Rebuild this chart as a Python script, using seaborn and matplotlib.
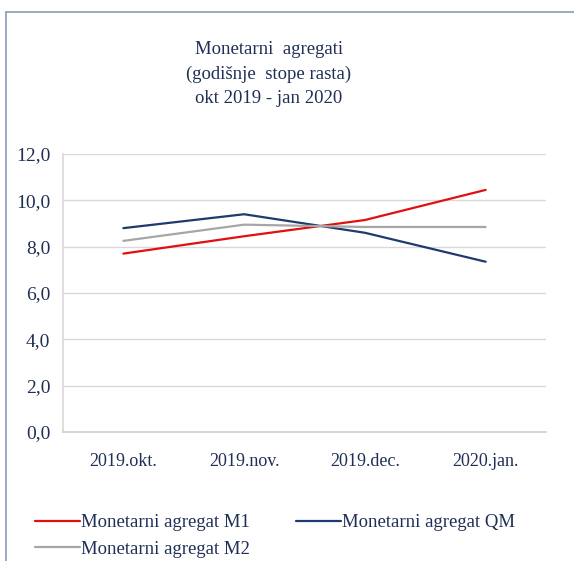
import pandas as pd
import seaborn as sb
import matplotlib.pyplot as plt
from matplotlib.lines import Line2D

months = ["2019.okt.", "2019.nov.", "2019.dec.", "2020.jan."]
m1 = [7.7, 8.45, 9.15, 10.45]
qm = [8.8, 9.4, 8.6, 7.35]
m2 = [8.25, 8.95, 8.85, 8.85]

names = ["Monetarni agregat M1", "Monetarni agregat QM", "Monetarni agregat M2"]
colors = {"Monetarni agregat M1": "#e01010",
          "Monetarni agregat QM": "#1f3a6e",
          "Monetarni agregat M2": "#a6a6a6"}
text_col = "#1f2f55"

rows = []
for name, vals in zip(names, [m1, qm, m2]):
    for mon, v in zip(months, vals):
        rows.append({"mjesec": mon, "stopa": v, "serija": name})
df = pd.DataFrame(rows)

sb.set_theme(style="white")
plt.rcParams["font.family"] = ["Liberation Serif", "DejaVu Serif"]

fig = plt.figure(figsize=(5.74, 5.61), dpi=100)
ax = fig.add_axes([63 / 574, 1 - 432 / 561, 483 / 574, 278 / 561])

sb.lineplot(data=df, x="mjesec", y="stopa", hue="serija", palette=colors,
            hue_order=names, linewidth=1.6, sort=False, ax=ax, legend=False)

ax.set_xlim(-0.5, 3.5)
ax.set_ylim(0, 12)
ax.set_yticks([0, 2, 4, 6, 8, 10, 12])
ax.set_yticklabels([f"{t:.1f}".replace(".", ",") for t in range(0, 13, 2)])
ax.set_xlabel("")
ax.set_ylabel("")
ax.grid(axis="y", color="#d9d9d9", linewidth=1)
ax.set_axisbelow(True)
for s in ["top", "right"]:
    ax.spines[s].set_visible(False)
ax.spines["left"].set_color("#d9d9d9")
ax.spines["bottom"].set_color("#d0d0d0")
ax.tick_params(axis="x", length=0, labelsize=13, labelcolor=text_col, pad=15)
ax.tick_params(axis="y", length=0, labelsize=14, labelcolor=text_col, pad=9)

fig.text(269 / 574, 1 - 74 / 561,
         "Monetarni  agregati\n(godišnje  stope rasta)\nokt 2019 - jan 2020",
         ha="center", va="center", fontsize=13.5, color=text_col, linespacing=1.55)

# outer chart border (top and left only visible)
fig.add_artist(Line2D([6 / 574, 6 / 574], [0, 1 - 12 / 561], color="#8a9ab5", lw=1.2))
fig.add_artist(Line2D([6 / 574, 1], [1 - 12 / 561, 1 - 12 / 561], color="#8a9ab5", lw=1.2))

handles = [Line2D([], [], color=colors[n], lw=1.6) for n in names]
leg = fig.legend([handles[0], handles[2], handles[1]],
                 [names[0], names[2], names[1]],
                 loc="upper left", bbox_to_anchor=(35 / 574, 1 - 514 / 561),
                 ncol=2, frameon=False, fontsize=13.5, handlelength=2.4,
                 handletextpad=0.05, columnspacing=2.45, labelspacing=0.52,
                 borderpad=0, borderaxespad=0)
for t in leg.get_texts():
    t.set_color(text_col)

fig.savefig("out.png", dpi=100)
